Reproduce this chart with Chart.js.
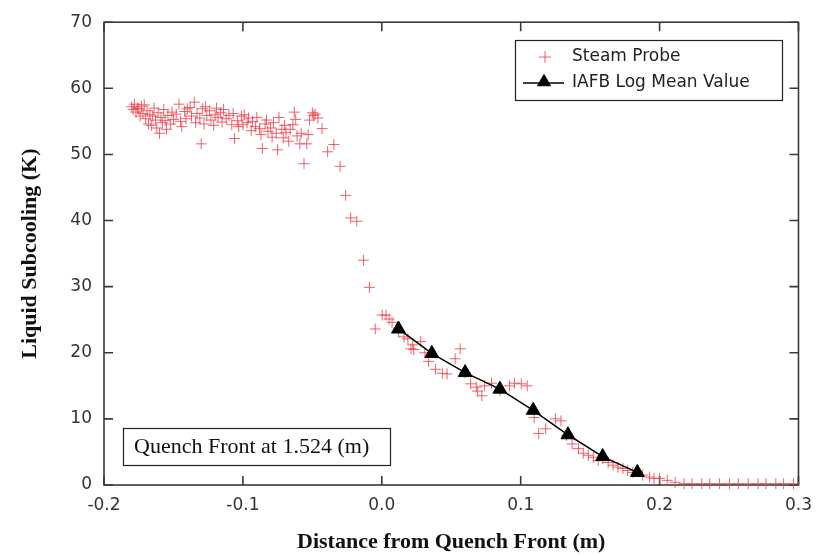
<!DOCTYPE html>
<html>
<head>
<meta charset="utf-8">
<script src="https://cdn.jsdelivr.net/npm/chart.js@4/dist/chart.umd.min.js"></script>
<style>
html,body{margin:0;padding:0;background:#fff;}
#wrap{width:822px;height:556px;position:relative;}
</style>
</head>
<body>
<div id="wrap"><canvas id="c" width="822" height="556"></canvas></div>
<script>
// ---- Data ----
const steamX = [
 -0.180,-0.179,-0.178,-0.177,-0.176,-0.175,-0.174,-0.173,-0.172,-0.171,
 -0.170,-0.169,-0.168,-0.167,-0.166,-0.165,-0.164,-0.163,-0.162,-0.161,
 -0.160,-0.159,-0.158,-0.157,-0.156,-0.155,-0.154,-0.152,-0.151,-0.150,
 -0.148,-0.146,-0.145,-0.144,-0.142,-0.141,-0.140,-0.138,-0.137,-0.135,
 -0.134,-0.133,-0.131,-0.130,-0.129,-0.128,-0.127,-0.126,-0.124,-0.123,
 -0.121,-0.120,-0.119,-0.118,-0.116,-0.115,-0.114,-0.112,-0.110,-0.108,
 -0.107,-0.106,-0.104,-0.103,-0.101,-0.100,-0.099,-0.097,-0.096,-0.094,
 -0.093,-0.091,-0.090,-0.088,-0.087,-0.086,-0.084,-0.083,-0.082,-0.080,
 -0.079,-0.078,-0.076,-0.075,-0.074,-0.072,-0.071,-0.070,-0.069,-0.067,
 -0.066,-0.064,-0.063,-0.062,-0.061,-0.059,-0.058,-0.056,-0.054,-0.053,
 -0.052,-0.050,-0.049,-0.048,-0.046,-0.043,-0.039,-0.0345,-0.030,-0.026,
 -0.0224,-0.018,-0.0132,-0.0089,-0.0047,0.0003,0.003,0.0053,0.0074,0.012,
 0.016,0.0188,0.021,0.0223,0.023,0.028,0.031,0.0337,0.0386,0.0436,
 0.047,0.0528,0.0564,0.060,0.064,0.068,0.069,0.072,0.074,0.079,
 0.085,0.0919,0.0955,0.1004,0.1047,0.1097,0.113,0.118,0.125,0.129,
 0.133,0.137,0.1416,0.145,0.1487,0.1523,0.1558,0.159,0.163,0.1665,
 0.170,0.1736,0.177,0.1807,0.1878,0.1928,0.196,0.1999,0.2055,0.2112,
 0.2176,0.2233,0.2304,0.2361,0.2432,0.2503,0.2567,0.2638,0.2709,0.2766,
 0.2837,0.2893,0.2964
];
const steamY = [
 57.2,56.8,57.6,56.4,57.0,56.9,55.8,57.3,56.2,57.5,
 55.4,56.6,54.6,56.0,54.4,55.8,57.0,55.2,54.0,56.3,
 53.2,55.6,54.8,56.8,55.1,53.8,55.9,54.6,56.4,55.3,
 56.1,57.6,55.0,54.2,56.5,55.4,56.9,57.1,55.8,57.9,
 54.8,56.2,55.5,51.6,56.9,54.6,57.2,55.9,56.6,55.2,
 54.4,56.0,57.0,55.6,56.3,54.9,56.8,55.4,55.9,54.5,
 56.2,52.4,55.1,54.2,55.8,54.5,56.0,54.8,55.5,53.6,
 55.0,54.2,55.6,53.9,53.0,50.9,54.6,55.2,53.5,54.0,
 52.6,54.8,53.2,50.7,55.6,53.8,52.5,54.4,53.3,52.0,
 53.8,54.5,56.4,55.3,52.8,51.6,53.2,48.6,51.6,53.0,
 55.2,56.3,55.9,56.1,55.5,53.9,50.4,51.5,48.2,43.8,
 40.4,39.9,34.0,29.9,23.6,25.7,25.7,25.1,24.6,23.2,
 22.4,22.1,20.6,21.2,20.5,21.7,20.0,18.7,17.5,16.9,
 16.8,19.1,20.6,17.0,15.3,14.8,14.2,13.5,15.0,15.4,
 14.3,15.0,15.4,15.3,15.0,10.2,7.8,8.5,10.0,9.7,
 7.5,6.2,5.5,4.8,4.5,4.2,3.7,4.0,3.4,3.0,
 2.7,2.5,2.2,1.9,1.5,1.2,1.0,1.0,0.7,0.4,
 0.2,0.2,0.2,0.2,0.2,0.2,0.2,0.2,0.2,0.2,
 0.2,0.2,0.2
];
const iafbX = [0.012, 0.036, 0.060, 0.085, 0.109, 0.134, 0.159, 0.184];
const iafbY = [23.6, 19.9, 17.0, 14.5, 11.3, 7.6, 4.3, 1.9];
const xTicks = [-0.2, -0.1, 0.0, 0.1, 0.2, 0.3];
const yTicks = [0, 10, 20, 30, 40, 50, 60, 70];
const seriesNames = ['Steam Probe', 'IAFB Log Mean Value'];
const xTitle = 'Distance from Quench Front (m)';
const yTitle = 'Liquid Subcooling (K)';
const noteText = 'Quench Front at 1.524 (m)';

// ---- Styles ----
const RED = 'rgba(236,70,80,0.85)';
const AXIS = '#3a3a3a';

const steamPts = steamX.map((x, i) => ({x: x, y: steamY[i]}));
const iafbPts = iafbX.map((x, i) => ({x: x, y: iafbY[i]}));

const framePlugin = {
  id: 'frame',
  beforeDatasetsDraw(chart) {
    const {ctx, chartArea: a, scales} = chart;
    ctx.save();
    ctx.strokeStyle = AXIS;
    ctx.lineWidth = 1.6;
    ctx.strokeRect(a.left, a.top, a.right - a.left, a.bottom - a.top);
    const L = 9;
    ctx.beginPath();
    xTicks.forEach(v => {
      const px = scales.x.getPixelForValue(v);
      ctx.moveTo(px, a.bottom); ctx.lineTo(px, a.bottom - L);
      ctx.moveTo(px, a.top); ctx.lineTo(px, a.top + L);
    });
    yTicks.forEach(v => {
      const py = scales.y.getPixelForValue(v);
      ctx.moveTo(a.left, py); ctx.lineTo(a.left + L, py);
      ctx.moveTo(a.right, py); ctx.lineTo(a.right - L, py);
    });
    ctx.stroke();
    ctx.restore();
  },
  afterDraw(chart) {
    const {ctx} = chart;
    const H = Chart.helpers;
    ctx.save();
    // legend box
    ctx.fillStyle = '#fff';
    ctx.fillRect(515, 40, 267, 60);
    ctx.strokeStyle = '#222';
    ctx.lineWidth = 1.2;
    ctx.strokeRect(515.5, 40.5, 267, 60);
    ctx.strokeStyle = RED;
    ctx.lineWidth = 1;
    ctx.beginPath(); ctx.moveTo(539, 57); ctx.lineTo(551, 57); ctx.moveTo(545, 51); ctx.lineTo(545, 63); ctx.stroke();
    ctx.strokeStyle = '#000';
    ctx.lineWidth = 1.5;
    ctx.beginPath(); ctx.moveTo(523, 83); ctx.lineTo(564, 83); ctx.stroke();
    ctx.fillStyle = '#000';
    ctx.strokeStyle = '#000';
    ctx.lineWidth = 1;
    H.drawPoint(ctx, {pointStyle: 'triangle', radius: 7.5, borderWidth: 1, rotation: 0}, 544, 82);
    ctx.fillStyle = '#222';
    ctx.font = '17px "DejaVu Sans"';
    ctx.textBaseline = 'middle';
    ctx.textAlign = 'left';
    ctx.fillText(seriesNames[0], 572, 57);
    ctx.fillText(seriesNames[1], 572, 83);
    // note box
    ctx.fillStyle = '#fff';
    ctx.fillRect(123, 428, 267, 37);
    ctx.strokeStyle = '#222';
    ctx.lineWidth = 1.2;
    ctx.strokeRect(123.5, 428.5, 267, 37);
    ctx.fillStyle = '#111';
    ctx.font = '22px "Liberation Serif"';
    ctx.fillText(noteText, 134, 447);
    ctx.restore();
  }
};

new Chart(document.getElementById('c'), {
  type: 'scatter',
  data: {
    datasets: [
      {
        label: seriesNames[1],
        data: iafbPts,
        showLine: true,
        borderColor: '#000',
        borderWidth: 1.5,
        backgroundColor: '#000',
        pointStyle: 'triangle',
        pointRadius: 8,
        pointBorderWidth: 1,
        order: 0,
        clip: false
      },
      {
        label: seriesNames[0],
        data: steamPts,
        showLine: false,
        borderColor: RED,
        backgroundColor: RED,
        pointStyle: 'cross',
        pointRadius: 5.5,
        pointBorderWidth: 1,
        order: 1,
        clip: false
      }
    ]
  },
  options: {
    responsive: false,
    animation: false,
    events: [],
    layout: {padding: {top: 17, right: 14, left: 0, bottom: 0}},
    plugins: {legend: {display: false}, tooltip: {enabled: false}},
    scales: {
      x: {
        type: 'linear', min: -0.2, max: 0.3,
        afterBuildTicks(s) { s.ticks = xTicks.map(v => ({value: v})); },
        afterFit(s) { s.height = 71; },
        grid: {display: false, drawTicks: false},
        border: {display: false},
        ticks: {
          callback: v => v.toFixed(1),
          color: '#333', font: {family: 'DejaVu Sans', size: 17}, padding: 10,
          maxRotation: 0, autoSkip: false
        },
        title: {display: true, text: xTitle, color: '#111',
          font: {family: 'Liberation Serif', size: 22, weight: 'bold'}, padding: {top: 4, bottom: 0}}
      },
      y: {
        type: 'linear', min: 0, max: 70,
        afterBuildTicks(s) { s.ticks = yTicks.map(v => ({value: v})); },
        afterFit(s) { s.width = 104; },
        grid: {display: false, drawTicks: false},
        border: {display: false},
        ticks: {color: '#333', font: {family: 'DejaVu Sans', size: 17}, padding: 12, autoSkip: false},
        title: {display: true, text: yTitle, color: '#111',
          font: {family: 'Liberation Serif', size: 22, weight: 'bold'}, padding: {top: 17, bottom: 0}}
      }
    }
  },
  plugins: [framePlugin]
});
</script>
</body>
</html>
